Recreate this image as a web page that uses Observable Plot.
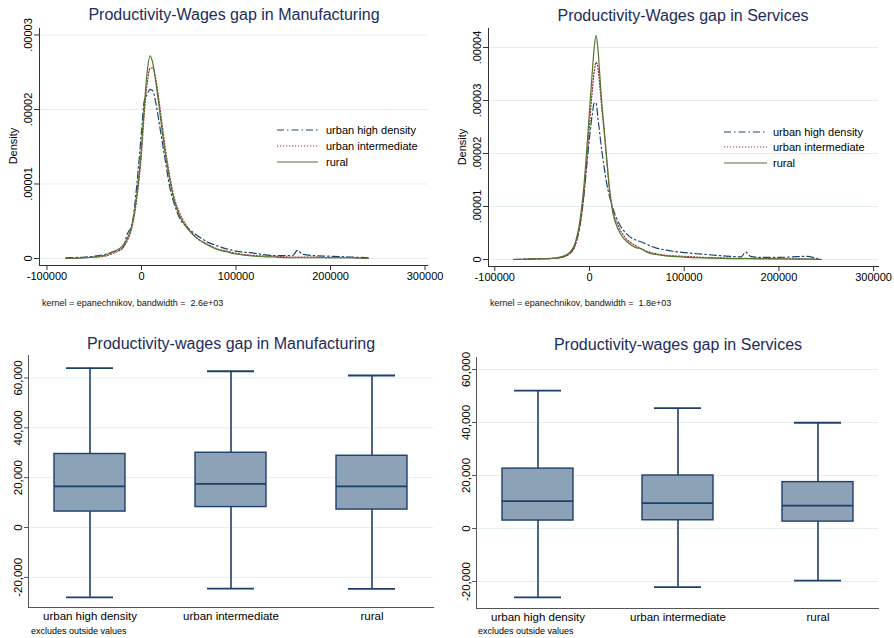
<!DOCTYPE html>
<html><head><meta charset="utf-8">
<script src="https://cdn.jsdelivr.net/npm/d3@7"></script>
<script src="https://cdn.jsdelivr.net/npm/@observablehq/plot@0.6"></script>
<style>
body{margin:0;background:#fff;font-family:"Liberation Sans",Arial,sans-serif;}
#page{position:relative;width:894px;height:638px;overflow:hidden;background:#fff}
.abs{position:absolute;white-space:pre;line-height:1}
.panel{position:absolute}
</style></head>
<body><div id="page"></div>
<script>
// ---------- DATA ----------
const seriesNames = ["urban high density", "urban intermediate", "rural"];
const boxCats = ["urban high density", "urban intermediate", "rural"];

// Density panels (density values in units of 1e-5)
const mfgX = [-80000,-60000,-40000,-30000,-20000,-15000,-10000,-5000,0,3000,6000,9000,12000,15000,18000,21000,25000,30000,35000,40000,50000,60000,70000,80000,90000,100000,120000,140000,160000,165000,170000,180000,200000,220000,240000];
const mfgUrbanHigh = [0.01,0.02,0.05,0.09,0.14,0.33,0.46,0.98,1.7,2.12,2.2,2.27,2.25,2.1,1.88,1.64,1.33,0.95,0.72,0.55,0.4,0.3,0.22,0.17,0.13,0.1,0.07,0.04,0.04,0.11,0.06,0.04,0.03,0.02,0.01];
const mfgUrbanInter = [0,0.01,0.03,0.07,0.14,0.24,0.42,0.8,1.4,1.95,2.35,2.55,2.56,2.42,2.17,1.88,1.5,1.1,0.8,0.62,0.4,0.26,0.19,0.13,0.1,0.07,0.04,0.03,0.02,0.02,0.02,0.02,0.01,0.01,0];
const mfgRural = [0,0.01,0.04,0.09,0.17,0.27,0.45,0.85,1.5,2.05,2.5,2.72,2.62,2.38,2.1,1.8,1.42,1.05,0.76,0.58,0.38,0.26,0.18,0.12,0.09,0.06,0.03,0.02,0.01,0.01,0.01,0.01,0.01,0.01,0];

const srvX = [-80000,-60000,-40000,-30000,-20000,-15000,-10000,-6000,-3000,0,3000,5000,7000,9000,11000,13000,15000,18000,21000,25000,30000,35000,40000,45000,50000,55000,60000,70000,80000,100000,120000,140000,160000,165000,170000,180000,200000,220000,230000,240000,245000];
const srvUrbanHigh = [0,0.01,0.02,0.04,0.13,0.28,0.65,1.2,1.75,2.3,2.75,2.95,2.95,2.65,2.35,2.05,1.8,1.45,1.2,0.95,0.72,0.57,0.47,0.4,0.36,0.33,0.29,0.22,0.18,0.13,0.1,0.07,0.05,0.14,0.06,0.04,0.04,0.055,0.06,0.02,0];
const srvUrbanInter = [0,0.01,0.02,0.04,0.12,0.27,0.65,1.2,1.85,2.55,3.2,3.55,3.72,3.6,3.25,2.85,2.5,1.9,1.35,0.9,0.65,0.48,0.37,0.3,0.25,0.2,0.16,0.11,0.08,0.06,0.04,0.03,0.02,0.02,0.02,0.02,0.015,0.01,0.01,0.005,0];
const srvRural = [0,0.01,0.02,0.05,0.15,0.32,0.75,1.37,2.05,2.8,3.55,4.0,4.23,3.95,3.45,2.95,2.55,1.95,1.35,0.85,0.58,0.42,0.33,0.26,0.22,0.2,0.14,0.095,0.07,0.045,0.03,0.02,0.015,0.015,0.015,0.012,0.01,0.008,0.006,0.004,0];

const mfgDensTicks = [0, 0.00001, 0.00002, 0.00003];
const srvDensTicks = [0, 0.00001, 0.00002, 0.00003, 0.00004];
const densXTicks = [-100000, 0, 100000, 200000, 300000];

// Box plots (lower whisker, Q1, median, Q3, upper whisker)
const mfgLo  = [-28000, -24500, -24600];
const mfgQ1  = [6400, 8200, 7200];
const mfgMed = [16500, 17500, 16500];
const mfgQ3  = [29500, 30000, 28800];
const mfgHi  = [64000, 62700, 61000];

const srvLo  = [-26000, -22100, -19700];
const srvQ1  = [3000, 3100, 2600];
const srvMed = [10300, 9600, 8600];
const srvQ3  = [22600, 20000, 17500];
const srvHi  = [52000, 45400, 39900];

const boxTicks = [-20000, 0, 20000, 40000, 60000];

// ---------- STYLE ----------
const colors = {"urban high density": "#1a476f", "urban intermediate": "#90353b", "rural": "#55752f"};
const dashes = {"urban high density": "7,3,1.5,3", "urban intermediate": "1.2,1.8", "rural": null};
const gridColor = "#e4eef0";
const axisColor = "#333";
const titleColor = "#1c2c5c";
const boxFill = "#8da2b7";
const boxStroke = "#1d3f6b";
const FONT = "Liberation Sans, Arial, sans-serif";

const page = document.getElementById("page");
function put(text, x, y, opts = {}) {
  const d = document.createElement("div");
  d.className = "abs";
  d.textContent = text;
  d.style.fontSize = (opts.size || 11) + "px";
  d.style.color = opts.color || "#000";
  d.style.left = x + "px";
  d.style.top = y + "px";
  const tx = opts.anchor === "middle" ? "-50%" : "0";
  d.style.transform = `translate(${tx},-50%)`;
  if (opts.rotate) { d.style.transform = `translate(-50%,-50%) rotate(${opts.rotate}deg)`; }
  page.appendChild(d);
  return d;
}
function placePlot(svg, left, top) {
  const wrap = document.createElement("div");
  wrap.className = "panel";
  wrap.style.left = left + "px";
  wrap.style.top = top + "px";
  wrap.appendChild(svg);
  page.appendChild(wrap);
}

const densFmt = d => d === 0 ? "0" : d3.format(".5f")(d).replace(/^0/, "");
const numFmt = d => d.toLocaleString("en-US");

function densityPanel({xs, ys, yTicks, xDomain, yDomain, width, height, margins}) {
  const marks = [Plot.gridY(yTicks, {stroke: gridColor, strokeOpacity: 1})];
  seriesNames.forEach((s, k) => {
    const data = xs.map((x, i) => ({x, y: ys[k][i] * 1e-5}));
    marks.push(Plot.line(data, {x: "x", y: "y", stroke: colors[s], strokeWidth: 1.2,
      strokeDasharray: dashes[s] || undefined, curve: "monotone-x"}));
  });
  marks.push(Plot.frame({anchor: "left", stroke: axisColor}));
  marks.push(Plot.frame({anchor: "bottom", stroke: axisColor}));
  marks.push(Plot.axisY(yTicks, {tickRotate: -90, tickSize: 5, tickPadding: 3, tickFormat: densFmt, stroke: axisColor, fontSize: 11, label: null}));
  marks.push(Plot.axisX(densXTicks, {tickSize: 5, tickPadding: 2, tickFormat: d => String(d), stroke: axisColor, fontSize: 11, label: null}));
  return Plot.plot({
    width, height, ...margins,
    style: {fontFamily: FONT, fontSize: "11px", color: "#000", background: "transparent", overflow: "visible"},
    x: {domain: xDomain},
    y: {domain: yDomain},
    marks
  });
}

function boxPanel({lo, q1, med, q3, hi, yDomain, width, height, margins}) {
  const rows = boxCats.map((c, i) => ({c, lo: lo[i], q1: q1[i], med: med[i], q3: q3[i], hi: hi[i]}));
  return Plot.plot({
    width, height, ...margins,
    style: {fontFamily: FONT, fontSize: "11.5px", color: "#000", background: "transparent", overflow: "visible"},
    x: {type: "band", domain: boxCats, paddingInner: 0.495, paddingOuter: 0.18},
    y: {domain: yDomain},
    marks: [
      Plot.gridY(boxTicks, {stroke: gridColor, strokeOpacity: 1}),
      Plot.ruleX(rows, {x: "c", y1: "lo", y2: "q1", stroke: boxStroke, strokeWidth: 1.6}),
      Plot.ruleX(rows, {x: "c", y1: "q3", y2: "hi", stroke: boxStroke, strokeWidth: 1.6}),
      Plot.barY(rows, {x: "c", y1: "q1", y2: "q3", fill: boxFill, stroke: boxStroke, strokeWidth: 1.4}),
      Plot.tickY(rows, {x: "c", y: "med", stroke: boxStroke, strokeWidth: 1.8}),
      Plot.tickY(rows, {x: "c", y: "hi", stroke: boxStroke, strokeWidth: 1.8, insetLeft: 12, insetRight: 12}),
      Plot.tickY(rows, {x: "c", y: "lo", stroke: boxStroke, strokeWidth: 1.8, insetLeft: 12, insetRight: 12}),
      Plot.frame({anchor: "left", stroke: "#555"}),
      Plot.frame({anchor: "bottom", stroke: "#555"}),
      Plot.axisY(boxTicks, {tickRotate: -90, tickSize: 4, tickPadding: 3, tickFormat: numFmt, stroke: "#555", fontSize: 11.5, label: null}),
      Plot.axisX({tickSize: 0, tickPadding: 4, fontSize: 11.5, label: null})
    ]
  });
}

// Panel 1
placePlot(densityPanel({
  xs: mfgX, ys: [mfgUrbanHigh, mfgUrbanInter, mfgRural], yTicks: mfgDensTicks,
  xDomain: [-107900, 302600], yDomain: [-0.00000094, 0.00003087],
  width: 445, height: 266, margins: {marginLeft: 39, marginRight: 18, marginTop: 6, marginBottom: 23}
}), 0, 22);
// Panel 2
placePlot(densityPanel({
  xs: srvX, ys: [srvUrbanHigh, srvUrbanInter, srvRural], yTicks: srvDensTicks,
  xDomain: [-106650, 305170], yDomain: [-0.00000132, 0.00004358],
  width: 449, height: 266, margins: {marginLeft: 43, marginRight: 16, marginTop: 6, marginBottom: 22}
}), 445, 22);
// Panel 3
placePlot(boxPanel({
  lo: mfgLo, q1: mfgQ1, med: mfgMed, q3: mfgQ3, hi: mfgHi, yDomain: [-32100, 69030],
  width: 445, height: 280, margins: {marginLeft: 28, marginRight: 12, marginTop: 5, marginBottom: 23}
}), 0, 350);
// Panel 4
placePlot(boxPanel({
  lo: srvLo, q1: srvQ1, med: srvMed, q3: srvQ3, hi: srvHi, yDomain: [-30190, 64530],
  width: 449, height: 280, margins: {marginLeft: 31, marginRight: 16, marginTop: 7, marginBottom: 22}
}), 445, 350);

// Titles
put("Productivity-Wages gap in Manufacturing", 234, 15, {size: 16, color: titleColor, anchor: "middle"});
put("Productivity-Wages gap in Services", 683, 16, {size: 16, color: titleColor, anchor: "middle"});
put("Productivity-wages gap in Manufacturing", 231, 344, {size: 16, color: titleColor, anchor: "middle"});
put("Productivity-wages gap in Services", 678, 345, {size: 16, color: titleColor, anchor: "middle"});

// Density axis titles
put("Density", 13, 146, {size: 11, rotate: -90});
put("Density", 462, 147, {size: 11, rotate: -90});

// Captions
put("kernel = epanechnikov, bandwidth =  2.6e+03", 42, 303, {size: 9, color: "#111"});
put("kernel = epanechnikov, bandwidth =  1.8e+03", 490, 303, {size: 9, color: "#111"});
put("excludes outside values", 31, 631, {size: 9});
put("excludes outside values", 478, 631, {size: 9});

// Legends
function legend(x0, x1, tx, ysArr) {
  seriesNames.forEach((s, i) => {
    const svg = d3.create("svg").attr("width", x1 - x0).attr("height", 4)
      .style("position", "absolute").style("left", x0 + "px").style("top", (ysArr[i] - 2) + "px");
    svg.append("line").attr("x1", 0).attr("x2", x1 - x0).attr("y1", 2).attr("y2", 2)
      .attr("stroke", colors[s]).attr("stroke-width", 1.2).attr("stroke-dasharray", dashes[s]);
    page.appendChild(svg.node());
    put(s, tx, ysArr[i], {size: 11});
  });
}
legend(277, 318, 326, [130, 146, 162]);
legend(724, 767, 773, [132, 147, 163]);
</script></body></html>
